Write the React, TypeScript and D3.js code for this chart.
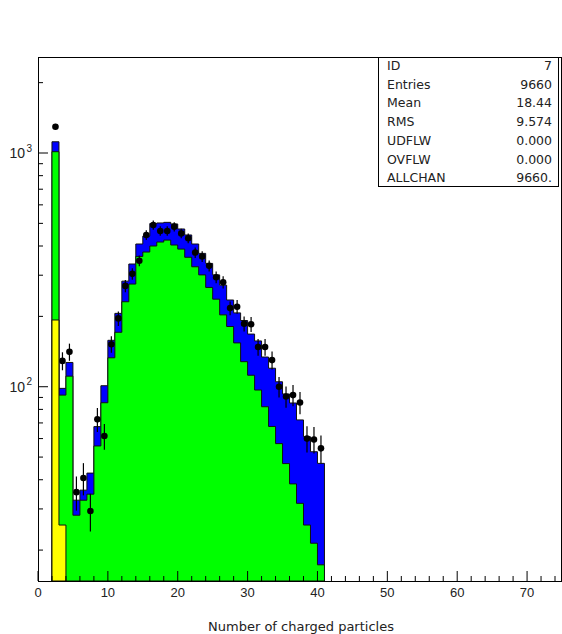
import React from "react";
import * as d3 from "d3";

const bins = [2, 3, 4, 5, 6, 7, 8, 9, 10, 11, 12, 13, 14, 15, 16, 17, 18, 19, 20, 21, 22, 23, 24, 25, 26, 27, 28, 29, 30, 31, 32, 33, 34, 35, 36, 37, 38, 39, 40];
const blueValues = [1117, 98.4, 127, 32.7, 36.1, 42.7, 67.5, 101, 158, 206, 283, 335, 408, 441, 499, 502, 505, 497, 473, 446, 408, 372, 337, 301, 272, 235, 207, 192, 168, 157, 134, 120, 105, 93.1, 85.2, 72.1, 61.1, 52.7, 47.0];
const greenValues = [1013, 92.1, 111, 28.2, 32.7, 34.7, 55.8, 85.4, 133, 171, 231, 275, 361, 377, 400, 416, 424, 404, 388, 358, 326, 301, 266, 237, 203, 181, 154, 128, 112, 96.8, 82.1, 67.6, 57.1, 46.9, 38.4, 31.7, 25.6, 21.4, 17.3];
const yellowBins = [2, 3];
const yellowValues = [193, 25.6];
const dataValues = [1296, 129, 141, 35.4, 40.7, 29.4, 72.5, 61.5, 152, 196, 270, 304, 346, 446, 492, 464, 464, 484, 453, 432, 375, 361, 329, 294, 280, 217, 220, 186, 185, 148, 148, 130, 100, 90.8, 92.1, 85.6, 60.0, 59.5, 54.5];
const dataErrors = [36, 11.4, 11.9, 5.9, 6.4, 5.4, 8.5, 7.8, 12.3, 14, 16.4, 17.4, 18.6, 21.1, 22.2, 21.5, 21.5, 22, 21.3, 20.8, 19.4, 19, 18.1, 17.1, 16.7, 14.7, 14.8, 13.6, 13.6, 12.2, 12.2, 11.4, 10, 9.5, 9.6, 9.3, 7.7, 7.7, 7.4];

const xTickLabels = [0, 10, 20, 30, 40, 50, 60, 70];
const xMinorTicks = d3.range(0, 76, 2);
const yMajor = [100, 1000];
const yMajorExp = ["2", "3"];
const yMinor = [20, 30, 40, 50, 60, 70, 80, 90, 200, 300, 400, 500, 600, 700, 800, 900, 2000];

const statLabels = ["ID", "Entries", "Mean", "RMS", "UDFLW", "OVFLW", "ALLCHAN"];
const statValues = ["7", "9660", "18.44", "9.574", "0.000", "0.000", "9660."];

const W = 562, H = 634;
const L = 38, R = 561, T = 57, B = 581;

export default function App() {
  const x = d3.scaleLinear().domain([0, 75]).range([L, 562]);
  const y = d3.scaleLog().domain([14.75, 2575]).range([B, T]);

  const stepPath = (bs: number[], vs: number[]) => {
    const pts: [number, number][] = [];
    pts.push([x(bs[0]), B]);
    bs.forEach((b, i) => {
      pts.push([x(b), y(vs[i])]);
      pts.push([x(b + 1), y(vs[i])]);
    });
    pts.push([x(bs[bs.length - 1] + 1), B]);
    return d3.line()(pts) + "Z";
  };

  const font = "'Liberation Sans', Arial, sans-serif";
  const font2 = "'DejaVu Sans', sans-serif";

  return (
    <svg width={W} height={H} style={{ display: "block", position: "absolute", left: 0, top: 0 }} fontFamily={font}>
      <rect x={0} y={0} width={W} height={H} fill="#fff" />
      <path d={stepPath(bins, blueValues)} fill="#0000ff" stroke="#111" strokeWidth={1} />
      <path d={stepPath(bins, greenValues)} fill="#00ff00" stroke="#111" strokeWidth={1} />
      <path d={stepPath(yellowBins, yellowValues)} fill="#ffff00" stroke="#111" strokeWidth={1} />
      {bins.map((b, i) => {
        const cx = x(b + 0.5);
        const v = dataValues[i];
        const e = dataErrors[i];
        return (
          <g key={b}>
            <line x1={cx} x2={cx} y1={y(v + e)} y2={y(Math.max(v - e, 1))} stroke="#000" strokeWidth={1.2} />
            <circle cx={cx} cy={y(v)} r={3.3} fill="#000" />
          </g>
        );
      })}
      <rect x={L + 0.5} y={T + 0.5} width={R - L} height={B - T} fill="none" stroke="#000" strokeWidth={1} />
      {xMinorTicks.map((t) => (
        <line key={"xm" + t} x1={x(t)} x2={x(t)} y1={B} y2={t % 10 === 0 ? B - 10 : B - 5} stroke="#000" strokeWidth={1} />
      ))}
      {xTickLabels.map((t) => (
        <text key={"xl" + t} x={x(t)} y={597} fontSize={13} textAnchor="middle" fill="#222">{t}</text>
      ))}
      {yMinor.map((t) => (
        <line key={"ym" + t} x1={L} x2={L + 5} y1={y(t)} y2={y(t)} stroke="#000" strokeWidth={1} />
      ))}
      {yMajor.map((t, i) => (
        <g key={"yM" + t}>
          <line x1={L} x2={L + 10} y1={y(t)} y2={y(t)} stroke="#000" strokeWidth={1} />
          <text x={25} y={y(t) + 5} fontSize={14} textAnchor="end" fill="#222">10</text>
          <text x={26.5} y={y(t) - 1.5} fontSize={10} textAnchor="start" fill="#222">{yMajorExp[i]}</text>
        </g>
      ))}
      <text x={301} y={631} fontSize={13} textAnchor="middle" fill="#222" fontFamily={font2}>Number of charged particles</text>
      <rect x={378.5} y={T + 0.5} width={180} height={129} fill="#fff" stroke="#000" strokeWidth={1} />
      {statLabels.map((s, i) => (
        <g key={s} fontFamily={font2}>
          <text x={387} y={70 + i * 18.7} fontSize={12.5} fill="#222">{s}</text>
          <text x={552} y={70 + i * 18.7} fontSize={12.5} textAnchor="end" fill="#222">{statValues[i]}</text>
        </g>
      ))}
    </svg>
  );
}
